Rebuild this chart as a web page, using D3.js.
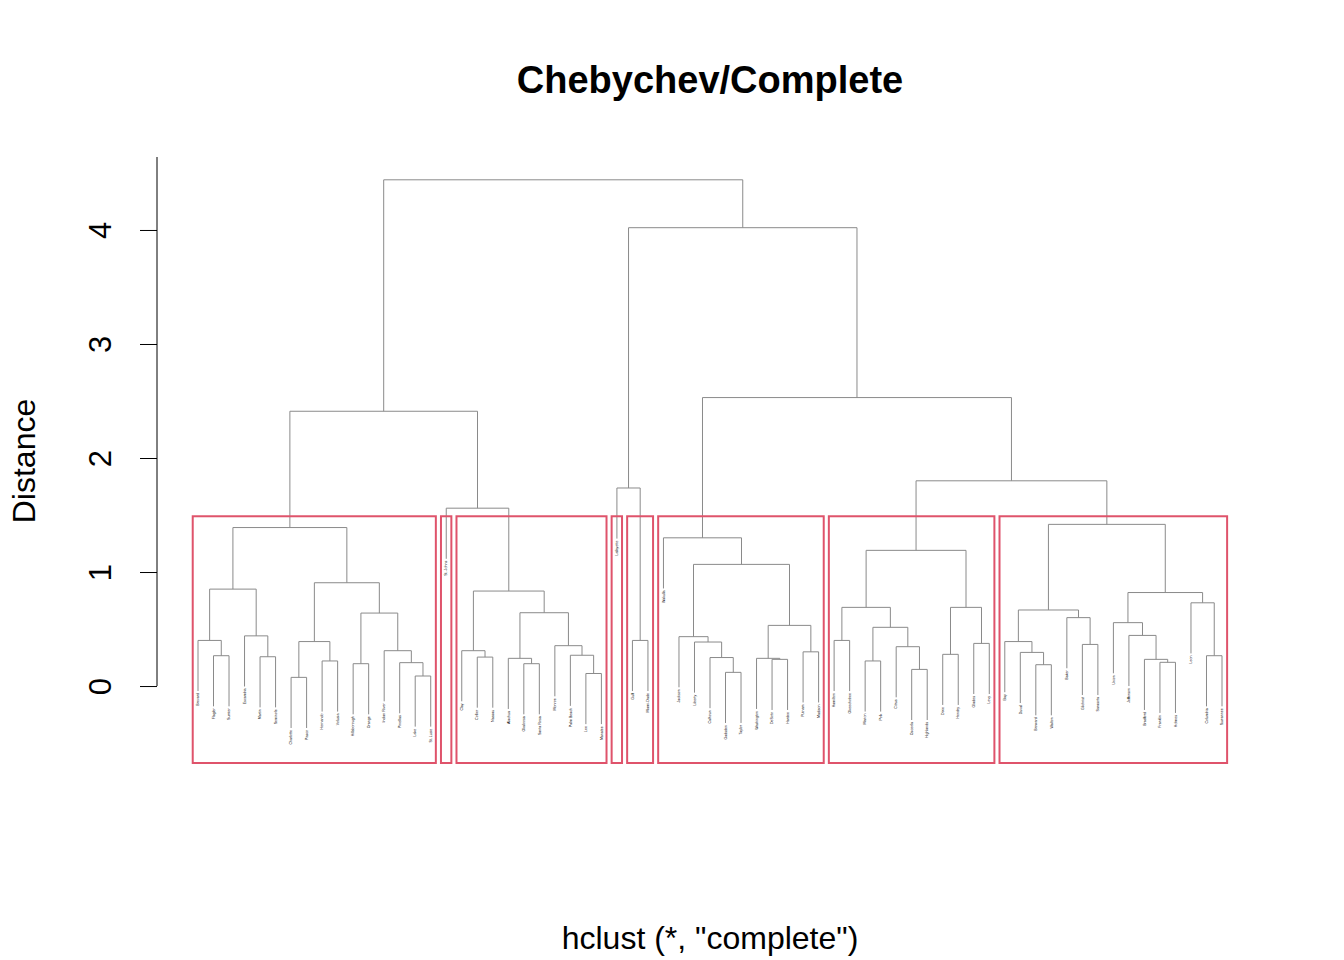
<!DOCTYPE html>
<html>
<head>
<meta charset="utf-8">
<script src="https://cdn.jsdelivr.net/npm/d3@7"></script>
<style>
  html, body { margin: 0; padding: 0; background: #fff; }
  svg { display: block; font-family: "Liberation Sans", Arial, Helvetica, sans-serif; }
</style>
</head>
<body>
<svg id="chart" width="1344" height="960"></svg>
<script>
// ---- data: merge trees [height, left, right]; leaves are county names ----
const cluster1 = [1.39,
  [0.85,
    [0.40, "Brevard", [0.266, "Flagler", "Sumter"]],
    [0.44, "Escambia", [0.257, "Martin", "Seminole"]]],
  [0.906,
    [0.39, [0.076, "Charlotte", "Pasco"], [0.22, "Hernando", "Volusia"]],
    [0.64, [0.196, "Hillsborough", "Orange"],
      [0.31, "Indian River", [0.205, "Pinellas", [0.088, "Lake", "St. Lucie"]]]]]];

const cluster3 = [0.833,
  [0.31, "Clay", [0.254, "Collier", "Nassau"]],
  [0.643,
    [0.243, "Alachua", [0.196, "Okaloosa", "Santa Rosa"]],
    [0.354, "Monroe", [0.27, "Palm Beach", [0.11, "Lee", "Manatee"]]]]];

const cluster5 = [0.40, "Gulf", "Miami-Dade"];

const cluster6 = [1.30, "Wakulla",
  [1.067,
    [0.433, "Jackson", [0.386, "Liberty", [0.25, "Calhoun", [0.12, "Gadsden", "Taylor"]]]],
    [0.532, [0.243, "Washington", [0.234, "DeSoto", "Hardee"]], [0.30, "Putnam", "Madison"]]]];

const cluster7 = [1.19,
  [0.69, [0.40, "Hamilton", "Okeechobee"],
    [0.515, [0.22, "Marion", "Polk"], [0.345, "Citrus", [0.146, "Osceola", "Highlands"]]]],
  [0.69, [0.278, "Dixie", "Hendry"], [0.374, "Glades", "Levy"]]];

const cluster8 = [1.418,
  [0.667,
    [0.39, "Bay", [0.295, "Duval", [0.187, "Broward", "Walton"]]],
    [0.60, "Baker", [0.365, "Gilchrist", "Sarasota"]]],
  [0.82,
    [0.556, "Union", [0.444, "Jefferson", [0.234, "Bradford", [0.208, "Franklin", "Holmes"]]]],
    [0.73, "Leon", [0.266, "Columbia", "Suwannee"]]]];

const tree = [4.44,
  [2.41, cluster1, [1.56, "St. Johns", cluster3]],
  [4.02,
    [1.737, "Lafayette", cluster5],
    [2.53, cluster6, [1.80, cluster7, cluster8]]]];

const clusterCount = 8;
const yTicks = [0, 1, 2, 3, 4];
const titleText = "Chebychev/Complete";
const xLabelText = 'hclust (*, "complete")';
const yLabelText = "Distance";
</script>
<script>
const svg = d3.select("#chart");

const leaves = [];
function collect(n) { if (typeof n === "string") leaves.push(n); else { collect(n[1]); collect(n[2]); } }
collect(tree);
const nLeaves = leaves.length;

const maxH = tree[0];
const hang = 0.1 * maxH;

const x = d3.scaleLinear().domain([1, nLeaves]).range([198, 1222]);
const y = d3.scaleLinear().domain([-0.675, 4.64]).range([763, 157]);

let idx = 0;
function layout(n) {
  if (typeof n === "string") { idx += 1; return { name: n, x: idx, first: idx, last: idx, leaf: true }; }
  const l = layout(n[1]), r = layout(n[2]);
  return { x: (l.x + r.x) / 2, h: n[0], left: l, right: r, leaf: false,
           first: Math.min(l.first, r.first), last: Math.max(l.last, r.last) };
}
const root = layout(tree);

const g = svg.append("g");
const lineColor = "#8a8a8a";
const labels = [];
function draw(node) {
  if (node.leaf) return;
  [node.left, node.right].forEach(c => {
    const ch = c.leaf ? node.h - hang : c.h;
    g.append("line")
      .attr("x1", x(c.x)).attr("x2", x(c.x))
      .attr("y1", y(node.h)).attr("y2", y(ch))
      .attr("stroke", lineColor).attr("stroke-width", 1);
    if (c.leaf) labels.push({ name: c.name, x: c.x, y: ch });
  });
  g.append("line")
    .attr("x1", x(node.left.x)).attr("x2", x(node.right.x))
    .attr("y1", y(node.h)).attr("y2", y(node.h))
    .attr("stroke", lineColor).attr("stroke-width", 1);
  draw(node.left); draw(node.right);
}
draw(root);

g.selectAll("text.leaf").data(labels).join("text")
  .attr("class", "leaf")
  .attr("transform", d => `translate(${x(d.x) + 1.2},${y(d.y) + 2}) rotate(-90)`)
  .attr("text-anchor", "end")
  .attr("font-size", 3.6)
  .attr("fill", "#000")
  .text(d => d.name);

// cluster rectangles (cut into k groups)
const heights = [];
function hs(node) { if (!node.leaf) { heights.push(node.h); hs(node.left); hs(node.right); } }
hs(root);
heights.sort((a, b) => b - a);
const cutH = (heights[clusterCount - 2] + heights[clusterCount - 1]) / 2;
const groups = [];
function cut(node) {
  if (node.leaf || node.h < cutH) groups.push([node.first, node.last]);
  else { cut(node.left); cut(node.right); }
}
cut(root);
svg.append("g").selectAll("rect").data(groups).join("rect")
  .attr("x", d => x(d[0] - 0.34))
  .attr("width", d => x(d[1] + 0.33) - x(d[0] - 0.34))
  .attr("y", y(cutH))
  .attr("height", y(-0.675) - y(cutH))
  .attr("fill", "none")
  .attr("stroke", "#DF536B")
  .attr("stroke-width", 2);

// y axis
const axisG = svg.append("g").attr("transform", "translate(157,0)");
axisG.call(d3.axisLeft(y).tickValues(yTicks).tickSize(17).tickFormat(""));
axisG.select(".domain").remove();
axisG.selectAll(".tick line").attr("stroke", "#000").attr("stroke-width", 1);
axisG.append("line").attr("x1", 0).attr("x2", 0).attr("y1", y(0)).attr("y2", y(4.64))
  .attr("stroke", "#000").attr("stroke-width", 1);
axisG.selectAll(".tick").append("text")
  .attr("transform", "translate(-57,0) rotate(-90)")
  .attr("text-anchor", "middle")
  .attr("dy", "0.35em")
  .attr("fill", "#000")
  .attr("font-size", 31)
  .text(d => d);

// titles
svg.append("text").attr("x", 710).attr("y", 93).attr("text-anchor", "middle")
  .attr("font-size", 38).attr("font-weight", "bold").text(titleText);
svg.append("text").attr("x", 710).attr("y", 949).attr("text-anchor", "middle")
  .attr("font-size", 32).text(xLabelText);
svg.append("text").attr("transform", "translate(35,461) rotate(-90)").attr("text-anchor", "middle")
  .attr("font-size", 32).text(yLabelText);
</script>
</body>
</html>
